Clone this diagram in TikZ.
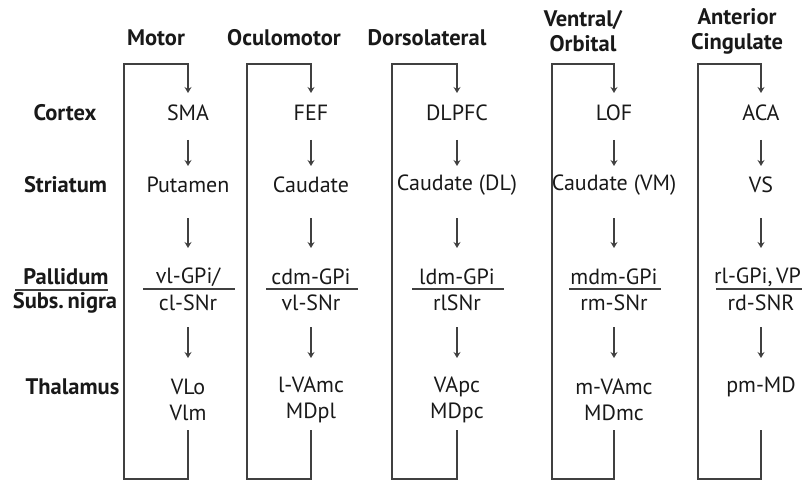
\documentclass[tikz,border=0pt]{standalone}
\usepackage{fontspec}
\setmainfont{PT Sans}
\usetikzlibrary{arrows.meta}
\begin{document}
\begin{tikzpicture}[x=1pt,y=-1pt,
  every node/.style={inner sep=0pt,outer sep=0pt,font=\fontsize{22}{26}\selectfont,text=black!90},
  hdr/.style={font=\fontsize{22.5}{25}\selectfont\bfseries,align=center},
  rowlab/.style={font=\fontsize{22.5}{26}\selectfont\bfseries},
  ln/.style={draw=black!75,line width=1.1pt},
  arr/.style={ln,-{Stealth[length=6pt,width=7pt,inset=2pt]}}]
\useasboundingbox (0,0) rectangle (802,481);
% headers
\node[hdr] (hmot) at (156,38) {Motor};
\node[hdr] (hocu) at (284,38) {Oculomotor};
\node[hdr] (hdor) at (427,38) {Dorsolateral};
\node[hdr] (hven) at (583,31) {Ventral/\\Orbital};
\node[hdr] (hant) at (737,31) {Anterior\\Cingulate};
% row labels
\node[rowlab] (rcor) at (65,113) {Cortex};
\node[rowlab] (rstr) at (65.5,185) {Striatum};
\node[rowlab] (rpal) at (66,277) {Pallidum};
\node[rowlab] (rsub) at (65,303) {Subs.\,nigra};
\node[rowlab] (rtha) at (72.5,387) {Thalamus};
\draw[ln] (15,290) -- (108,290);
% columns
\foreach \i/\cx/\lx/\a/\b/\d in {
 1/188/124/SMA/Putamen/cl-SNr,
 2/311/247/FEF/Caudate/vl-SNr,
 3/457/392/DLPFC/Caudate (DL)/rlSNr,
 4/614/552/LOF/Caudate (VM)/rm-SNr,
 5/761/698/ACA/VS/rd-SNR}{
  \node (cor\i) at (\cx,113) {\a};
  \node (str\i) at (\cx,185) {\b};
  \node (sub\i) at (\cx,303) {\d};
  \coordinate (top\i) at (\cx,64);
  \coordinate (tl\i) at (\lx,64);
  \coordinate (bl\i) at (\lx,479);
  \coordinate (br\i) at (\cx,479);
  \draw[ln] (\cx-45,289) -- (\cx+47,289);
  \draw[arr] (\cx,140) -- (\cx,166);
  \draw[arr] (\cx,218) -- (\cx,248);
  \draw[arr] (\cx,327) -- (\cx,358);
  \draw[arr] (br\i) ++(0,-49) -- (br\i) -- (bl\i) -- (tl\i) -- (top\i) -- (\cx,93);
}
\node (pal1) at (188,277) {vl-GPi/};
\node (pal2) at (311,277) {cdm-GPi};
\node (pal3) at (457,277) {ldm-GPi};
\node (pal4) at (614,277) {mdm-GPi};
\node[anchor=east] (pal5) at (801,277) {rl-GPi,\,VP};
\node (tha1) at (188,400) [align=center] {VLo\\Vlm};
\node (tha2) at (311,400) [align=center] {l-VAmc\\MDpl};
\node (tha3) at (457,400) [align=center] {VApc\\MDpc};
\node (tha4) at (614,400) [align=center] {m-VAmc\\MDmc};
\node (tha5) at (761,387) {pm-MD};
\end{tikzpicture}
\end{document}
